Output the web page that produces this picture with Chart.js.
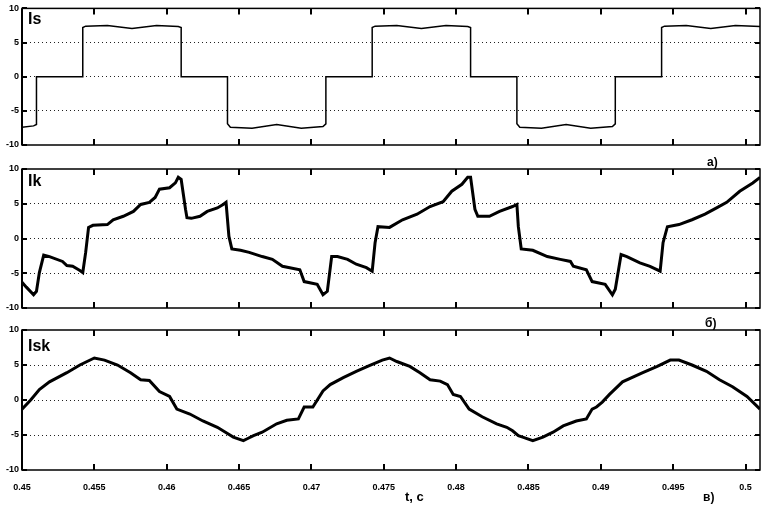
<!DOCTYPE html>
<html>
<head>
<meta charset="utf-8">
<script src="https://cdn.jsdelivr.net/npm/chart.js@4"></script>
<style>
  body { margin: 0; background: #fff; }
  #wrap { position: relative; width: 762px; height: 505px; overflow: hidden; font-family: "Liberation Sans", Arial, sans-serif; }
  .box { position: absolute; left: 0; width: 762px; }
  .lbl { position: absolute; font-weight: bold; line-height: 1; color: #000; white-space: nowrap; }
</style>
</head>
<body>
<div id="wrap">
  <div class="box" style="top:0;height:160px"><canvas id="c1" width="762" height="160"></canvas></div>
  <div class="box" style="top:160px;height:160px"><canvas id="c2" width="762" height="160"></canvas></div>
  <div class="box" style="top:320px;height:185px"><canvas id="c3" width="762" height="185"></canvas></div>
  <div class="lbl" style="left:28px;top:11px;font-size:16px">Is</div>
  <div class="lbl" style="left:28px;top:173px;font-size:16px">Ik</div>
  <div class="lbl" style="left:28px;top:338px;font-size:16px">Isk</div>
  <div class="lbl" style="left:707px;top:156px;font-size:12px">а)</div>
  <div class="lbl" style="left:705px;top:317px;font-size:12px">б)</div>
  <div class="lbl" style="left:703px;top:491px;font-size:12px">в)</div>
  <div class="lbl" style="left:405px;top:490px;font-size:13px">t, с</div>
</div>
<script>
// axes
var xTicks = [0.45, 0.455, 0.46, 0.465, 0.47, 0.475, 0.48, 0.485, 0.49, 0.495, 0.5];
var yTicks = [-10, -5, 0, 5, 10];

// а) Is
var isT = [0.4500, 0.4508, 0.4510, 0.4510, 0.4542, 0.4542, 0.4544, 0.4559, 0.4576, 0.4593, 0.4608, 0.4610, 0.4610,
           0.4642, 0.4642, 0.4644, 0.4659, 0.4676, 0.4693, 0.4708, 0.4710, 0.4710,
           0.4742, 0.4742, 0.4744, 0.4759, 0.4776, 0.4793, 0.4808, 0.4810, 0.4810,
           0.4842, 0.4842, 0.4844, 0.4859, 0.4876, 0.4893, 0.4908, 0.4910, 0.4910,
           0.4942, 0.4942, 0.4944, 0.4959, 0.4976, 0.4993, 0.5010];
var isV = [-7.4, -7.2, -7.0, 0, 0, 7.2, 7.4, 7.5, 7.05, 7.5, 7.35, 7.2, 0,
           0, -6.9, -7.4, -7.55, -7.0, -7.55, -7.3, -6.9, 0,
           0, 7.2, 7.4, 7.5, 7.05, 7.5, 7.35, 7.2, 0,
           0, -6.9, -7.4, -7.55, -7.0, -7.55, -7.3, -6.9, 0,
           0, 7.2, 7.4, 7.5, 7.05, 7.5, 7.35];

// б) Ik
var ikT = [0.4500, 0.4503, 0.4508, 0.4510, 0.4512, 0.4515, 0.4519, 0.4528, 0.4531, 0.4535, 0.4540, 0.4542,
           0.4544, 0.4546, 0.4549, 0.4559, 0.4563, 0.4570, 0.4577, 0.4582, 0.4588, 0.4592, 0.4595, 0.4602, 0.4606, 0.4608, 0.4610,
           0.4613, 0.4614, 0.4617, 0.4623, 0.4628, 0.4635, 0.4639, 0.4641,
           0.4643, 0.4645, 0.4651, 0.4657, 0.4666, 0.4673, 0.4680, 0.4692, 0.4695, 0.4704, 0.4708, 0.4711,
           0.4714, 0.4718, 0.4725, 0.4731, 0.4738, 0.4742,
           0.4744, 0.4746, 0.4754, 0.4763, 0.4773, 0.4782, 0.4791, 0.4797, 0.4804, 0.4808, 0.4810,
           0.4813, 0.4815, 0.4823, 0.4830, 0.4839, 0.4842,
           0.4843, 0.4845, 0.4853, 0.4863, 0.4872, 0.4879, 0.4881, 0.4890, 0.4894, 0.4903, 0.4908, 0.4910,
           0.4914, 0.4918, 0.4927, 0.4934, 0.4941,
           0.4943, 0.4946, 0.4954, 0.4963, 0.4972, 0.4980, 0.4987, 0.4996, 0.5005, 0.5010];
var ikV = [-6.3, -7.0, -8.1, -7.6, -4.9, -2.4, -2.6, -3.3, -3.9, -4.0, -4.6, -4.9,
           -2.0, 1.6, 1.9, 2.0, 2.7, 3.2, 3.9, 4.9, 5.2, 5.9, 7.1, 7.3, 8.0, 8.8, 8.5,
           4.2, 3.0, 2.9, 3.2, 3.9, 4.4, 4.9, 5.2,
           0.3, -1.5, -1.7, -2.0, -2.6, -3.0, -4.0, -4.5, -6.2, -6.6, -8.1, -7.6,
           -2.6, -2.6, -3.0, -3.7, -4.2, -4.7,
           -0.6, 1.7, 1.6, 2.7, 3.5, 4.6, 5.3, 6.8, 7.8, 8.8, 8.8,
           4.2, 3.2, 3.2, 3.9, 4.6, 4.9,
           1.7, -1.5, -1.7, -2.6, -3.0, -3.3, -4.0, -4.5, -6.2, -6.6, -8.1, -7.3,
           -2.3, -2.6, -3.5, -4.0, -4.7,
           -0.6, 1.7, 2.0, 2.7, 3.5, 4.4, 5.2, 6.8, 8.0, 8.8];

// в) Isk
var iskT = [0.4500, 0.4506, 0.4512, 0.4519, 0.4531, 0.4540, 0.4550, 0.4557, 0.4566, 0.4575, 0.4582, 0.4588,
            0.4595, 0.4602, 0.4607, 0.4616, 0.4625, 0.4635, 0.4642, 0.4646, 0.4653, 0.4656, 0.4660, 0.4666,
            0.4676, 0.4683, 0.4691, 0.4695, 0.4701, 0.4708, 0.4713, 0.4722, 0.4731, 0.4740, 0.4749, 0.4754,
            0.4759, 0.4768, 0.4775, 0.4782, 0.4789, 0.4794, 0.4798, 0.4803, 0.4809, 0.4818, 0.4828, 0.4835,
            0.4839, 0.4843, 0.4846, 0.4853, 0.4860, 0.4867, 0.4874, 0.4883, 0.4890, 0.4894, 0.4897, 0.4901,
            0.4906, 0.4915, 0.4929, 0.4939, 0.4948, 0.4954, 0.4963, 0.4973, 0.4982, 0.4991, 0.5001, 0.5010];
var iskV = [-1.3, 0, 1.5, 2.6, 3.9, 5.0, 6.0, 5.7, 5.0, 3.9, 2.9, 2.8,
            1.2, 0.5, -1.3, -2.0, -3.0, -3.9, -4.8, -5.3, -5.8, -5.5, -5.1, -4.6,
            -3.4, -2.9, -2.7, -1.0, -1.0, 1.3, 2.2, 3.2, 4.1, 4.9, 5.7, 6.0,
            5.5, 4.8, 3.9, 2.9, 2.7, 2.2, 0.8, 0.5, -1.3, -2.4, -3.4, -3.9,
            -4.4, -5.1, -5.3, -5.8, -5.3, -4.6, -3.7, -3.0, -2.7, -1.3, -1.0, -0.3,
            0.8, 2.6, 3.9, 4.8, 5.7, 5.7, 5.0, 4.1, 2.9, 1.9, 0.5, -1.3];

var tickFont = { family: "'Liberation Sans', Arial, sans-serif", size: 9, weight: 'bold' };

// frame and inward tick marks like the scope plot
var framePlugin = {
  id: 'frame',
  afterDraw: function(chart) {
    var ctx = chart.ctx, a = chart.chartArea, x = chart.scales.x, y = chart.scales.y;
    ctx.save();
    ctx.strokeStyle = '#000';
    ctx.lineWidth = 1.5;
    ctx.strokeRect(a.left, a.top, a.right - a.left, a.bottom - a.top);
    ctx.lineWidth = 2;
    ctx.beginPath();
    ctx.moveTo(a.left, a.top); ctx.lineTo(a.left, a.bottom);
    xTicks.forEach(function(v) {
      var px = Math.round(x.getPixelForValue(v));
      ctx.moveTo(px, a.top); ctx.lineTo(px, a.top + 6);
      ctx.moveTo(px, a.bottom); ctx.lineTo(px, a.bottom - 6);
    });
    yTicks.forEach(function(v) {
      var py = Math.round(y.getPixelForValue(v));
      ctx.moveTo(a.left, py); ctx.lineTo(a.left + 5, py);
      ctx.moveTo(a.right, py); ctx.lineTo(a.right - 5, py);
    });
    ctx.stroke();
    ctx.restore();
  }
};

function makeChart(id, times, vals, lw, withX, pad) {
  return new Chart(document.getElementById(id), {
    type: 'line',
    data: {
      datasets: [{
        data: times.map(function(t, i) { return { x: t, y: vals[i] }; }),
        borderColor: '#000',
        borderWidth: lw,
        pointRadius: 0,
        tension: 0,
        fill: false
      }]
    },
    options: {
      responsive: false,
      animation: false,
      events: [],
      layout: { padding: pad },
      plugins: { legend: { display: false }, tooltip: { enabled: false } },
      scales: {
        x: {
          type: 'linear',
          min: 0.45,
          max: 0.501,
          afterBuildTicks: function(s) { s.ticks = xTicks.map(function(v) { return { value: v }; }); },
          afterFit: function(s) { s.height = withX ? 35 : 0; },
          grid: { display: false },
          border: { display: false },
          ticks: {
            display: withX,
            padding: 4,
            maxRotation: 0,
            autoSkip: false,
            color: '#000',
            font: tickFont,
            callback: function(v) { return String(+Number(v).toFixed(3)); }
          }
        },
        y: {
          min: -10,
          max: 10,
          afterBuildTicks: function(s) { s.ticks = yTicks.map(function(v) { return { value: v }; }); },
          afterFit: function(s) { s.width = 22; },
          grid: {
            drawTicks: false,
            lineWidth: 1,
            color: function(c) { return (c.tick && Math.abs(c.tick.value) === 10) ? 'rgba(0,0,0,0)' : '#222'; }
          },
          border: { display: false, dash: [1, 3] },
          ticks: {
            padding: 3,
            color: '#000',
            font: tickFont,
            callback: function(v) { return String(v); }
          }
        }
      }
    },
    plugins: [framePlugin]
  });
}

makeChart('c1', isT, isV, 1.5, false, { left: 0, right: 2, top: 5, bottom: 15 });
makeChart('c2', ikT, ikV, 3, false, { left: 0, right: 2, top: 9, bottom: 12 });
makeChart('c3', iskT, iskV, 3, true, { left: 0, right: 2, top: 10, bottom: 0 });
</script>
</body>
</html>
